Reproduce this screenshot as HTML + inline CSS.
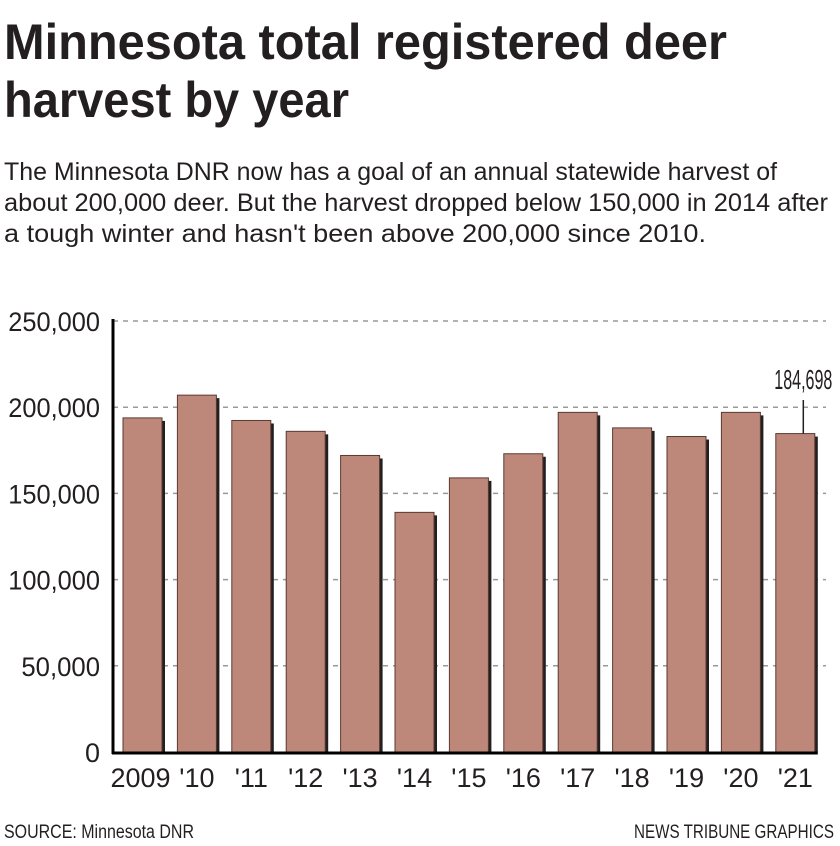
<!DOCTYPE html>
<html><head><meta charset="utf-8"><style>
body{margin:0;background:#fff;}
svg{display:block;font-family:"Liberation Sans",sans-serif;}
</style></head><body>
<svg id="chart" width="840" height="846" viewBox="0 0 840 846" xmlns="http://www.w3.org/2000/svg">
<text x="4" y="59" font-size="50" font-weight="bold" fill="#231f20" textLength="723" lengthAdjust="spacingAndGlyphs">Minnesota total registered deer</text>
<text x="4" y="117" font-size="50" font-weight="bold" fill="#231f20" textLength="345" lengthAdjust="spacingAndGlyphs">harvest by year</text>
<text x="4" y="180" font-size="25" fill="#231f20" textLength="773" lengthAdjust="spacingAndGlyphs">The Minnesota DNR now has a goal of an annual statewide harvest of</text>
<text x="4" y="211" font-size="25" fill="#231f20" textLength="824" lengthAdjust="spacingAndGlyphs">about 200,000 deer. But the harvest dropped below 150,000 in 2014 after</text>
<text x="4" y="242" font-size="25" fill="#231f20" textLength="702" lengthAdjust="spacingAndGlyphs">a tough winter and hasn't been above 200,000 since 2010.</text>
<g id="grid"></g>
<g id="bars"></g>
<g id="axes"></g>
<text x="4" y="838" font-size="19" fill="#231f20" textLength="190" lengthAdjust="spacingAndGlyphs">SOURCE: Minnesota DNR</text>
<text x="834" y="838" font-size="19" fill="#231f20" text-anchor="end" textLength="200" lengthAdjust="spacingAndGlyphs">NEWS TRIBUNE GRAPHICS</text>
</svg>
<script>
const categories=["2009","'10","'11","'12","'13","'14","'15","'16","'17","'18","'19","'20","'21"];
const harvest=[193800,207000,192300,186000,172000,139000,159000,173000,197000,188000,183000,197000,184698];
const yTicks=[0,50000,100000,150000,200000,250000];
const yTickLabels=["0","50,000","100,000","150,000","200,000","250,000"];
const NS="http://www.w3.org/2000/svg";
const svg=document.getElementById('chart');
const y0=752,yTop=321,yMax=250000,x0=113,xEnd=826,band=54.4,barW=39,firstX=123;
function yScale(v){return y0-(v/yMax)*(y0-yTop);}
function xScale(i){return firstX+i*band;}
function mk(tag,attrs,parent){const e=document.createElementNS(NS,tag);for(const k in attrs)e.setAttribute(k,attrs[k]);parent.appendChild(e);return e;}
const grid=document.getElementById('grid'),bars=document.getElementById('bars'),axes=document.getElementById('axes');
yTicks.forEach((t,i)=>{
  const y=yScale(t);
  if(t>0){const l=mk('line',{x1:x0,x2:xEnd,y1:y,y2:y,stroke:'#999','stroke-width':1.5,'stroke-dasharray':'5,5'},grid);
  
  }
  const attrs={x:100,y:y+10,'font-size':27,'text-anchor':'end',fill:'#231f20'};
  const len=yTickLabels[i].length;
  if(len>1){attrs.textLength=len*13.1;attrs.lengthAdjust='spacingAndGlyphs';}
  const tx=mk('text',attrs,axes);
  tx.textContent=yTickLabels[i];
  
  
});
harvest.forEach((v,i)=>{
  const x=xScale(i),y=yScale(v);
  const s=mk('rect',{x:x+3,y:y+3,width:barW,height:y0-y-3,fill:'#231f20'},bars);
  
  
  const b=mk('rect',{x:x,y:y,width:barW,height:y0-y,fill:'#bd877a',stroke:'#5a3a33','stroke-width':1},bars);
  
  
  const lb=mk('text',{x:x+barW/2+(i==0?-2:0),y:787,'font-size':27,'text-anchor':'middle',fill:'#231f20'},axes);
  lb.textContent=categories[i];
  
  
});
const ax=mk('line',{x1:x0,x2:x0,y1:yTop-2,y2:y0+2,stroke:'#000','stroke-width':3},axes);


const bx=mk('line',{x1:x0-1,x2:xScale(12)+barW+3,y1:y0+1,y2:y0+1,stroke:'#000','stroke-width':3},axes);


const li=harvest.length-1,lx=xScale(li)+barW/2+8;
const ll=mk('line',{x1:lx,x2:lx,y1:yScale(harvest[li]),y2:400,stroke:'#231f20','stroke-width':1.5},axes);


const lt=mk('text',{x:lx,y:389,'font-size':28,'text-anchor':'middle',fill:'#231f20',textLength:'58',lengthAdjust:'spacingAndGlyphs'},axes);
lt.textContent=harvest[li].toLocaleString('en-US');


</script>
</body></html>
